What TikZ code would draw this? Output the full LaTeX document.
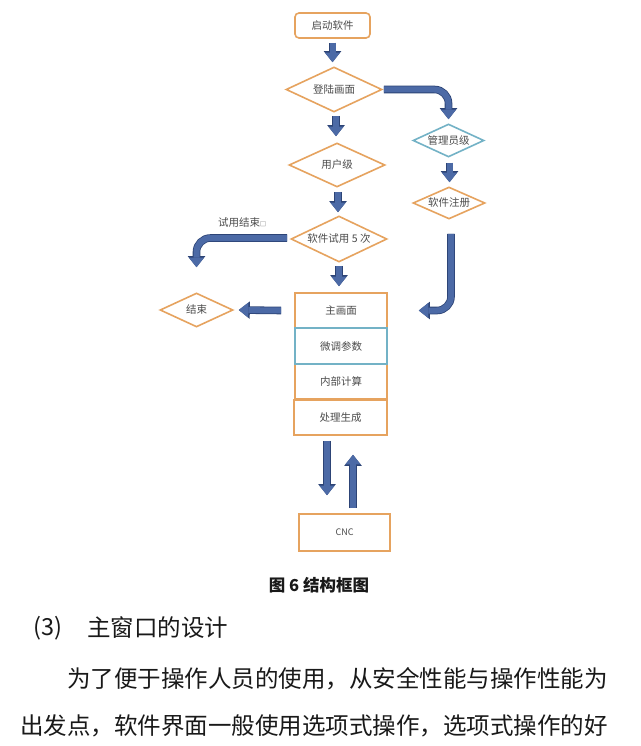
\documentclass[tikz,border=0pt]{standalone}
\usepackage{fontspec}
\setmainfont{Noto Sans CJK SC}
\usetikzlibrary{shapes.geometric,arrows.meta}
\definecolor{orng}{RGB}{230,163,95}
\definecolor{tealb}{RGB}{115,178,198}
\definecolor{arw}{RGB}{76,106,166}
\definecolor{arwdark}{RGB}{45,68,118}
\definecolor{lbl}{RGB}{75,75,75}
\definecolor{bodyc}{RGB}{25,25,25}
\tikzset{
  lblfont/.style={font=\fontsize{10.5}{12}\selectfont, text=lbl},
  boxnode/.style={draw=orng, line width=1.6pt, minimum width=92pt, minimum height=35pt, inner sep=0pt, lblfont},
  dianode/.style={diamond, draw=orng, line width=1.6pt, inner sep=0pt, aspect=2, lblfont},
  fat/.style={draw=arw, line width=6pt, -{Triangle[width=15pt,length=9.5pt,line width=0pt]},
    preaction={draw=arwdark, line width=7.6pt, -{Triangle[width=17.5pt,length=11pt,line width=0pt]}}},
  bodytext/.style={anchor=west, inner sep=0pt, font=\fontsize{23.5}{26}\selectfont, text=bodyc},
}
\begin{document}
\begin{tikzpicture}[x=1pt,y=-1pt]
\useasboundingbox[fill=white] (0,0) rectangle (640,746);
% nodes
\node[boxnode, rounded corners=4pt, minimum width=75pt, minimum height=25pt] (start) at (332.5,25.5) {启动软件};
\node[dianode, minimum width=96pt, minimum height=45pt] (login) at (334,89.5) {登陆画面};
\node[dianode, minimum width=96pt, minimum height=44pt] (user) at (337,165) {用户级};
\node[dianode, minimum width=96pt, minimum height=46pt] (trial) at (339,239) {软件试用 5 次};
\node[dianode, draw=tealb, minimum width=71pt, minimum height=33pt] (admin) at (448.5,140.5) {管理员级};
\node[dianode, minimum width=72pt, minimum height=32pt] (reg) at (449,203) {软件注册};
\node[dianode, minimum width=73pt, minimum height=34pt] (end) at (196.5,310) {结束};
\node[boxnode] (main) at (341,310.5) {主画面};
\node[boxnode] (calc) at (341,381.5) {内部计算};
\node[boxnode, minimum width=93pt] (proc) at (340.5,417.5) {处理生成};
\node[boxnode, draw=tealb, minimum height=36pt] (tune) at (341,346) {微调参数};
\node[boxnode, minimum width=91pt, minimum height=37pt, font=\fontsize{9}{10}\selectfont] (cnc) at (344.5,532.5) {CNC};
\node[lblfont, inner sep=0pt] (trialend) at (242,223) {试用结束{\fontsize{6}{6}\selectfont □}};
% arrows
\draw[fat] ([yshift=-4pt]start.south) -- ([yshift=4pt]start.south |- login.north);
\draw[fat] ([yshift=-3pt,xshift=2pt]login.south) -- ([yshift=6pt,xshift=2pt]login.south |- user.north);
\draw[fat] ([yshift=-4pt,xshift=1pt]user.south) -- ([yshift=3pt,xshift=1pt]user.south |- trial.north);
\draw[fat] ([yshift=-3pt]trial.south) -- ([yshift=6pt]trial.south |- main.north);
\draw[fat, rounded corners=14pt] ([xshift=1pt]login.east) -- (admin.north |- login.east) -- ([yshift=4pt]admin.north);
\draw[fat] ([yshift=-5pt,xshift=1pt]admin.south) -- ([yshift=4pt,xshift=1pt]admin.south |- reg.north);
\draw[fat, rounded corners=14pt] ([yshift=-14pt,xshift=2pt]reg.south) -- ([xshift=2pt]reg.south |- main.east) -- ([xshift=31pt]main.east);
\draw[fat, rounded corners=14pt] ([xshift=-3pt,yshift=1pt]trial.west) -- ([yshift=1pt]end.north |- trial.west) -- ([yshift=25pt]end.north);
\draw[fat] ([xshift=-13pt]main.west) -- ([xshift=5pt]end.east);
\draw[fat] ([yshift=-5pt,xshift=-13.5pt]proc.south) -- ([yshift=18pt,xshift=-13.5pt]proc.south |- cnc.north);
\draw[fat] ([yshift=5pt,xshift=8.5pt]cnc.north) -- ([yshift=-19pt,xshift=8.5pt]cnc.north |- proc.south);
% caption and body text
\node[inner sep=0pt, font=\fontsize{16.5}{18}\bfseries\selectfont, text=bodyc] (caption) at (319,585.5) {图 6 结构框图};
\node[bodytext] (num) at (33,628) {(3)};
\node[bodytext] (head) at (87,628) {主窗口的设计};
\node[bodytext] (line1) at (67,679) {为了便于操作人员的使用，从安全性能与操作性能为};
\node[bodytext] (line2) at (20,726) {出发点，软件界面一般使用选项式操作，选项式操作的好};
\end{tikzpicture}
\end{document}
